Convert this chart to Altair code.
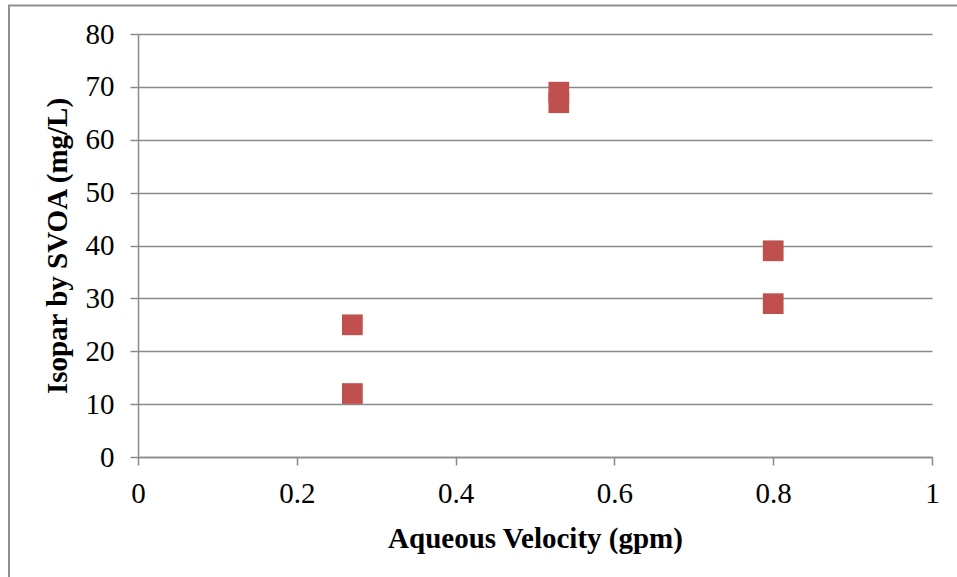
import altair as alt
import pandas as pd

velocity = [0.27, 0.27, 0.53, 0.53, 0.80, 0.80]
isopar = [25, 12, 69, 67, 39, 29]

x_ticks = [0, 0.2, 0.4, 0.6, 0.8, 1.0]
y_ticks = [0, 10, 20, 30, 40, 50, 60, 70, 80]

df = pd.DataFrame({"velocity": velocity, "isopar": isopar})
frame_df = pd.DataFrame({"k": [0]})

FONT = "Liberation Serif"
GRID = "#8a8a8a"

frame = alt.Chart(frame_df).mark_rect(
    fillOpacity=0, stroke="#8f8f8f", strokeWidth=2
).encode(
    x=alt.value(-129), x2=alt.value(900), y=alt.value(-28.5), y2=alt.value(700)
)

points = alt.Chart(df).mark_point(
    shape="square", filled=True, size=430, color="#C0504D", opacity=1
).encode(
    x=alt.X(
        "velocity:Q",
        scale=alt.Scale(domain=[0, 1], nice=False),
        axis=alt.Axis(
            title="Aqueous Velocity (gpm)",
            values=x_ticks,
            grid=False,
            labelFlush=False,
            labelExpr="datum.value == 0 ? '0' : datum.value == 1 ? '1' : format(datum.value, '.1f')",
            tickSize=8,
            labelPadding=14,
            titleY=90,
            titleBaseline="alphabetic",
        ),
    ),
    y=alt.Y(
        "isopar:Q",
        scale=alt.Scale(domain=[0, 80], nice=False),
        axis=alt.Axis(
            title="Isopar by SVOA (mg/L)",
            values=y_ticks,
            grid=True,
            labelFlush=False,
            tickSize=8,
            labelPadding=16,
            titleX=-72,
            titleY=211.5,
            titleAngle=-90,
            titleAlign="center",
            titleBaseline="alphabetic",
        ),
    ),
)

chart = alt.layer(frame, points).properties(
    width=794,
    height=423,
    background="white",
    autosize=alt.AutoSizeParams(type="none"),
    padding={"left": 138, "top": 34, "right": 25, "bottom": 120},
).configure_view(
    stroke=None
).configure_axis(
    labelFont=FONT,
    titleFont=FONT,
    labelFontSize=29,
    titleFontSize=29,
    titleFontWeight="bold",
    labelColor="black",
    titleColor="black",
    domainColor=GRID,
    domainWidth=1.5,
    tickColor=GRID,
    tickWidth=1.5,
    gridColor=GRID,
    gridWidth=1.5,
    gridOpacity=1,
    domainOpacity=1,
)

chart.save("out.html", embed_options={"renderer": "svg", "actions": False})
